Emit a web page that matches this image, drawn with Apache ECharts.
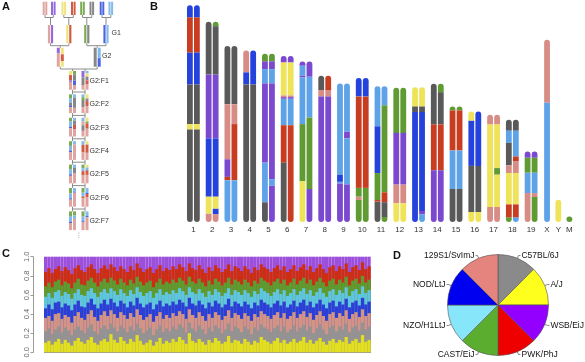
<!DOCTYPE html>
<html><head><meta charset="utf-8">
<script src="https://cdn.jsdelivr.net/npm/echarts@6/dist/echarts.min.js"></script>
<style>html,body{margin:0;padding:0;background:#fff}#c{width:585px;height:362px}</style>
</head><body><div id="c"></div>
<script>
const FONT = '"Liberation Sans", Arial, Helvetica, sans-serif';

// ---- strains ----
const strainNames = ['A/J','C57BL/6J','129S1/SvImJ','NOD/LtJ','NZO/H1LtJ','CAST/EiJ','PWK/PhJ','WSB/EiJ'];
const strainCode = {Y:0,K:1,S:2,N:3,Z:4,C:5,P:6,W:7};
const colB = ['#efe35a','#595959','#d88c86','#2542dc','#5ea3e8','#5f9a33','#c83d22','#7b48d0'];
const colA = ['#eee070','#7a7a7a','#dc9a95','#3a55dd','#74b2ea','#6ea244','#cc4a30','#8a5ad6'];
const colC = ['#e2df1f','#939393','#d39385','#2d3ed6','#5ec6e0','#5b9e2f','#cc2e14','#9b4fdb'];

// ---- Panel D: pie ----
const pieNames  = ['C57BL/6J','A/J','WSB/EiJ','PWK/PhJ','CAST/EiJ','NZO/H1LtJ','NOD/LtJ','129S1/SvImJ'];
const pieValues = [1,1,1,1,1,1,1,1];
const pieColors = ['#8a8a8a','#ffff1e','#9400ff','#ee0000','#5aad2e','#88e6fb','#0000f0','#e5837e'];

// ---- Panel C: upper edge of each strain band per sample (percent) ----
const edgeAJ   = [10,12,8,11,14,9,13,10,7,12, 15,11,9,13,16,10,8,12,14,11, 19,13,10,16,12,9,14,11,18,12, 8,10,13,7,11,15,9,12,10,14, 11,16,13,9,20,12,10,14,11,8, 13,10,15,12,9,11,17,10,13,12, 9,14,11,8,12,10,16,13,11,9, 12,15,10,13,9,11,14,10,12,16, 10,13,9,12,15,11,8,12,14,10, 13,11,16,9,12,14,10,18,11,13];
const edgeB6   = [22,25,19,24,27,21,26,23,18,24, 27,23,20,26,29,22,19,25,28,24, 30,26,22,28,25,21,27,23,30,25, 20,23,26,18,24,28,21,25,22,27, 24,29,26,21,31,25,22,28,24,19, 26,22,28,25,20,24,30,22,27,25, 21,27,24,19,26,23,29,26,24,21, 25,28,22,27,21,24,28,22,26,29, 23,27,20,25,29,24,19,26,28,22, 27,24,30,21,26,28,23,31,24,27];
const edge129  = [36,38,33,40,41,35,39,37,31,38, 42,36,34,40,44,37,33,39,43,38, 44,40,36,42,39,35,41,37,45,39, 34,37,40,32,38,42,35,39,36,41, 38,43,40,35,45,39,36,42,38,33, 40,36,42,39,34,38,44,36,41,39, 35,41,38,33,40,37,43,40,38,35, 39,42,36,41,35,38,42,36,40,43, 37,41,34,39,43,38,33,40,42,36, 41,38,44,35,40,42,37,45,38,41];
const edgeNOD  = [46,50,45,52,53,47,51,49,44,50, 54,48,47,52,56,50,46,51,55,50, 56,52,48,54,51,47,53,49,57,51, 47,50,52,45,50,54,48,51,49,53, 50,55,52,48,57,51,49,54,50,46, 52,48,54,51,47,50,56,48,53,51, 48,53,50,46,52,49,55,52,50,47, 51,54,49,53,47,50,54,48,52,55, 49,53,47,51,55,50,46,52,54,48, 53,50,56,47,52,54,49,57,50,53];
const edgeNZO  = [58,62,57,63,65,59,63,61,56,62, 66,60,59,64,67,62,58,63,66,62, 67,64,60,66,62,59,65,61,68,63, 59,62,64,57,62,66,60,63,61,65, 62,67,64,60,68,63,61,66,62,58, 64,60,66,63,59,62,67,60,65,63, 60,65,62,58,64,61,67,64,62,59, 63,66,61,65,59,62,66,60,64,67, 61,65,59,63,67,62,58,64,66,60, 65,62,68,59,64,66,61,69,62,65];
const edgeCAST = [69,73,68,74,76,70,74,72,67,73, 77,71,70,75,78,73,69,74,77,73, 78,75,71,77,73,70,76,72,79,74, 70,73,75,68,73,77,71,74,72,76, 73,78,75,71,79,74,72,77,73,69, 75,71,77,74,70,73,78,71,76,74, 71,76,73,69,75,72,78,75,73,70, 74,77,72,76,70,73,77,71,75,78, 72,76,70,74,78,73,69,75,77,71, 76,73,79,70,75,77,72,80,73,76];
const edgePWK  = [84,88,83,87,90,85,89,86,82,88, 91,86,84,89,92,87,83,88,91,87, 92,89,85,90,87,84,90,86,93,88, 84,87,89,83,87,91,85,88,86,90, 87,92,89,85,93,88,86,91,87,83, 89,85,91,88,84,87,92,85,90,88, 85,90,87,83,89,86,92,89,87,84, 88,91,86,90,84,87,91,85,89,92, 86,90,84,88,92,87,83,89,91,85, 90,87,93,84,89,91,86,94,87,90];
const edgeWSB  = edgePWK.map(() => 100); // top band always reaches 1.0
const cTicks = [0,20,40,60,80,100];

// ---- Panel B: chromosome haplotype mosaics: [strain, top of segment in Mb], segments listed top to bottom ----
const chromNames = ['1','2','3','4','5','6','7','8','9','10','11','12','13','14','15','16','17','18','19','X','Y','M'];
const chr1  = [[['N',197],['P',186],['N',154],['K',125],['Y',89],['K',84]], [['N',197],['P',186],['N',154],['K',125],['Y',89],['K',84]]];
const chr2  = [[['K',182],['W',134],['N',76],['Y',23],['S',7.6]], [['C',182],['K',178],['W',134],['N',76],['Y',23],['N',12],['S',7]]];
const chr3  = [[['K',160],['S',107],['W',57],['P',41],['Z',38]], [['K',160],['S',107],['P',89],['Z',38]]];
const chr4  = [[['S',156],['N',136],['K',125]], [['N',156],['K',125]]];
const chr5  = [[['C',153],['W',146],['Z',139],['W',126],['Z',54],['K',18]], [['C',153],['W',146],['Z',139],['W',126],['Z',39],['W',33]]];
const chr6  = [[['W',151],['Y',145],['S',115],['W',113.5],['Z',112],['P',88],['K',54]], [['W',151],['Y',145],['S',115],['W',113.5],['Z',112],['P',88]]];
const chr7  = [[['W',146],['Z',142],['W',133],['Z',131.5],['C',89],['Y',37]], [['W',146],['Z',132],['C',95],['W',30]]];
const chr8  = [[['K',133],['S',120],['W',114]], [['P',133],['S',120],['W',114]]];
const chr9  = [[['Z',126],['N',43],['Z',36.5],['W',35]], [['Z',126],['W',82],['Z',76],['W',34]]];
const chr10 = [[['N',131],['P',114],['C',31],['S',23],['C',20]], [['N',131],['P',114],['C',31]]];
const chr11 = [[['Z',123.5],['N',87],['C',44.5],['P',20],['K',18.5]], [['Z',123.5],['C',106],['P',27],['K',18],['C',4.5]]];
const chr12 = [[['C',122],['W',81],['S',34],['Y',17]], [['C',122],['W',81],['S',34],['Y',17]]];
const chr13 = [[['Y',122.6],['K',105],['N',100]], [['Y',122.6],['K',105],['N',100],['W',10],['Z',7]]];
const chr14 = [[['K',125.6],['P',88.7],['W',47]], [['C',125.6],['K',118],['P',88.7],['W',47]]];
const chr15 = [[['C',105],['P',101.4],['Z',65],['K',30]], [['C',105],['P',101.4],['Z',65],['K',30]]];
const chr16 = [[['Y',100.5],['N',92],['K',51],['Y',9]], [['N',100.5],['K',51],['Y',9]]];
const chr17 = [[['S',97.5],['Y',88.7],['S',13.6]], [['S',97.5],['Y',88.7],['C',49],['Y',43],['S',13.6]]];
const chr18 = [[['K',93],['Z',83],['K',72],['S',51.5],['Y',44.5],['P',16],['C',4]], [['K',93],['Z',83],['P',59.6],['S',55.4],['Y',44.5],['P',16],['Z',4]]];
const chr19 = [[['W',64],['C',58.4],['Z',44.8],['S',26.3]], [['W',64],['C',58.4],['Z',44.8],['S',26.3],['C',22.7]]];
const chrX  = [[['S',165.6],['Z',108.4]]];
const chrY  = [[['Y',20.3]]];
const chrM  = [[['C',5]]];
const chromosomes = [chr1,chr2,chr3,chr4,chr5,chr6,chr7,chr8,chr9,chr10,chr11,chr12,chr13,chr14,chr15,chr16,chr17,chr18,chr19,chrX,chrY,chrM];

// ---- Panel A: breeding funnel; homolog segments [strain, from %, to %] from top ----
const founderStrains = ['S','W','Y','P','C','K','N','Z'];
const g1Mice = [[[['S',0,100]],[['W',0,100]]], [[['Y',0,100]],[['P',0,100]]], [[['C',0,100]],[['K',0,100]]], [[['N',0,100]],[['Z',0,100]]]];
const g2Mice = [
  [[['W',0,30],['S',30,100]], [['Y',0,35],['P',35,70],['Y',70,100]]],
  [[['K',0,100]], [['Z',0,55],['N',55,100]]]
];
const fMice = [
  [[[['Y',0,22],['P',22,50],['W',50,58],['S',58,100]], [['C',0,18],['K',18,52],['N',52,75],['S',75,100]]],
   [[['W',0,35],['K',35,75],['S',75,100]], [['Z',0,12],['Y',12,30],['K',30,50],['P',50,72],['S',72,100]]]],
  [[[['C',0,22],['Z',22,45],['K',45,58],['N',58,68],['S',68,100]], [['Z',0,18],['K',18,72],['S',72,100]]],
   [[['Z',0,15],['C',15,30],['K',30,68],['S',68,100]], [['Y',0,22],['K',22,35],['P',35,62],['S',62,100]]]],
  [[[['C',0,20],['Z',20,48],['N',48,56],['S',56,100]], [['Z',0,15],['K',15,38],['P',38,60],['S',60,100]]],
   [[['Z',0,20],['S',20,40],['K',40,70],['S',70,100]], [['Y',0,20],['C',20,30],['P',30,58],['S',58,100]]]],
  [[[['C',0,25],['Z',25,50],['N',50,58],['S',58,100]], [['Z',0,18],['S',18,100]]],
   [[['Z',0,20],['P',20,60],['S',60,100]], [['Y',0,18],['P',18,62],['S',62,100]]]],
  [[[['C',0,25],['Z',25,52],['N',52,60],['S',60,100]], [['Z',0,18],['K',18,45],['S',45,100]]],
   [[['C',0,20],['Z',20,35],['P',35,58],['S',58,100]], [['Y',0,15],['Z',15,30],['P',30,55],['S',55,100]]]],
  [[[['C',0,28],['Z',28,55],['N',55,62],['S',62,100]], [['Z',0,20],['N',20,25],['S',25,100]]],
   [[['C',0,25],['Z',25,45],['P',45,55],['S',55,100]], [['Z',0,25],['N',25,32],['P',32,48],['S',48,100]]]],
  [[[['C',0,28],['Z',28,55],['N',55,62],['S',62,100]], [['C',0,22],['Z',22,40],['S',40,100]]],
   [[['C',0,28],['Z',28,50],['N',50,56],['S',56,100]], [['Z',0,25],['N',25,32],['S',32,100]]]]
];
const fLabels = ['G2:F1','G2:F2','G2:F3','G2:F4','G2:F5','G2:F6','G2:F7'];

// ================= layout (not data) =================
const chromSlot = [0,1,2,3,4,5,6,7,8,9,10,11,12,13,14,15,16,17,18,18.85,19.45,20.04];
const LA = { founderX:[45,53.3,63.8,73.3,82.5,91.8,102,110.8], founderTop:1.7, founderH:13.3,
  g1X:[50.5,68.8,86.8,106], g1Top:25, g1H:18.3, g2X:[60.3,97.2], g2Top:47.7, g2H:19,
  fX:[72.5,85], fTop:71, fStep:23.4, fH:18.7 };

// ---- build panel A rects ----
const aRects = []; // [x0,y0,x1,y1,strain]
function addMouse(cx, top, h, homologs, w, off) {
  homologs.forEach((segs, hi) => {
    const hx = cx + (hi === 0 ? -off : off);
    segs.forEach(s => aRects.push([hx - w/2, top + h*s[1]/100, hx + w/2, top + h*s[2]/100, strainCode[s[0]]]));
  });
}
founderStrains.forEach((c, i) => addMouse(LA.founderX[i], LA.founderTop, LA.founderH, [[[c,0,100]],[[c,0,100]]], 2, 1.3));
g1Mice.forEach((m, i) => addMouse(LA.g1X[i], LA.g1Top, LA.g1H, m, 2.2, 1.5));
g2Mice.forEach((m, i) => addMouse(LA.g2X[i], LA.g2Top, LA.g2H, m, 3, 2));
fMice.forEach((row, r) => row.forEach((m, i) => addMouse(LA.fX[i], LA.fTop + r*LA.fStep, LA.fH, m, 3, 2)));

const aLines = [];
(function(){
  const yb = LA.founderTop + LA.founderH, yl = yb + 2.5;
  for (let i = 0; i < 4; i++) {
    const xa = LA.founderX[2*i], xb = LA.founderX[2*i+1];
    aLines.push([xa,yb,xa,yl],[xb,yb,xb,yl],[xa,yl,xb,yl],[LA.g1X[i],yl,LA.g1X[i],LA.g1Top]);
  }
  const yb1 = LA.g1Top + LA.g1H, yl1 = yb1 + 2.4;
  for (let i = 0; i < 2; i++) {
    const xa = LA.g1X[2*i], xb = LA.g1X[2*i+1];
    aLines.push([xa,yb1,xa,yl1],[xb,yb1,xb,yl1],[xa,yl1,xb,yl1],[LA.g2X[i],yl1,LA.g2X[i],LA.g2Top]);
  }
  const yb2 = LA.g2Top + LA.g2H, yl2 = yb2 + 2.3;
  aLines.push([LA.g2X[0],yb2,LA.g2X[0],yl2],[LA.g2X[1],yb2,LA.g2X[1],yl2],[LA.g2X[0],yl2,LA.g2X[1],yl2],
              [LA.fX[0],yl2,LA.fX[0],LA.fTop],[LA.fX[1],yl2,LA.fX[1],LA.fTop]);
  for (let r = 0; r < 6; r++) {
    const b = LA.fTop + r*LA.fStep + LA.fH, l = b + 2.3, nt = LA.fTop + (r+1)*LA.fStep;
    aLines.push([LA.fX[0],b,LA.fX[0],nt],[LA.fX[1],b,LA.fX[1],nt],[LA.fX[0],l,LA.fX[1],l]);
  }
})();
const aTexts = [['G1',111.5,33],['G2',102,56]].concat(fLabels.map((t, r) => [t, 89.5, LA.fTop + r*LA.fStep + LA.fH/2 + 0.5]));

// ---- build panel B items ----
const bItems = [];
chromosomes.forEach((homs, ci) => {
  homs.forEach((segs, hi) => {
    const side = homs.length === 1 ? 0 : (hi === 0 ? -1 : 1);
    segs.forEach((seg, si) => {
      const bottom = si + 1 < segs.length ? segs[si+1][1] : 0;
      bItems.push([chromSlot[ci], side, bottom, seg[1], strainCode[seg[0]], si === 0 ? 1 : 0, si === segs.length - 1 ? 1 : 0]);
    });
  });
});

const chart = echarts.init(document.getElementById('c'), null, {renderer:'canvas'});
const cCats = edgeAJ.map((_, i) => String(i + 1));
const cEdges = [edgeWSB, edgePWK, edgeCAST, edgeNZO, edgeNOD, edge129, edgeB6, edgeAJ];
const cIdx = [7,6,5,4,3,2,1,0];

const option = {
  animation: false,
  backgroundColor: '#fff',
  textStyle: {fontFamily: FONT},
  grid: [
    {left:0, top:0, width:130, height:240, show:false},
    {left:184, top:2, width:394, height:220, show:false},
    {left:44, top:256.7, width:326.7, height:95.6, show:false}
  ],
  xAxis: [
    {gridIndex:0, type:'value', min:0, max:130, show:false},
    {gridIndex:1, type:'value', min:-0.5, max:20.5, show:false},
    {gridIndex:2, type:'category', data:cCats, show:false, boundaryGap:true}
  ],
  yAxis: [
    {gridIndex:0, type:'value', min:0, max:240, inverse:true, show:false},
    {gridIndex:1, type:'value', min:0, max:200, show:false},
    {gridIndex:2, type:'value', min:0, max:100, interval:20, position:'left', offset:11,
     axisLine:{show:true, lineStyle:{color:'#9a9a9a', width:1}},
     axisTick:{show:true, length:2.5, lineStyle:{color:'#9a9a9a'}},
     axisLabel:{rotate:90, fontSize:7.5, color:'#666', margin:2.5, fontFamily:FONT,
       customValues: cTicks, formatter: v => (v/100).toFixed(1)},
     splitLine:{show:false}}
  ],
  graphic: [
    {type:'text', left:2, top:1, style:{text:'A', font:'bold 11px '+FONT, fill:'#111'}},
    {type:'text', left:150, top:1.5, style:{text:'B', font:'bold 11px '+FONT, fill:'#111'}},
    {type:'text', left:2, top:248.5, style:{text:'C', font:'bold 11px '+FONT, fill:'#111'}},
    {type:'text', left:393, top:250.5, style:{text:'D', font:'bold 11px '+FONT, fill:'#111'}}
  ],
  series: [
    // Panel A lines
    {type:'custom', xAxisIndex:0, yAxisIndex:0, silent:true, data:aLines, encode:{x:[0,2], y:[1,3]},
     renderItem:(p, api) => {
       const a = api.coord([api.value(0), api.value(1)]), b = api.coord([api.value(2), api.value(3)]);
       return {type:'line', shape:{x1:a[0], y1:a[1], x2:b[0], y2:b[1]}, style:{stroke:'#8c8c8c', lineWidth:1}};
     }},
    // Panel A chromosomes
    {type:'custom', xAxisIndex:0, yAxisIndex:0, silent:true, data:aRects, encode:{x:[0,2], y:[1,3]},
     renderItem:(p, api) => {
       const a = api.coord([api.value(0), api.value(1)]), b = api.coord([api.value(2), api.value(3)]);
       return {type:'rect', shape:{x:a[0], y:a[1], width:b[0]-a[0], height:b[1]-a[1]},
               style:{fill:colA[api.value(4)], opacity:0.9}};
     }},
    // Panel A labels
    {type:'custom', xAxisIndex:0, yAxisIndex:0, silent:true, data:aTexts.map(t => [t[1], t[2], t[0]]),
     encode:{x:0, y:1},
     renderItem:(p, api) => {
       const a = api.coord([api.value(0), api.value(1)]);
       return {type:'text', x:a[0], y:a[1], style:{text:aTexts[p.dataIndex][0], fill:'#333', font:'7px '+FONT, align:'left', verticalAlign:'middle'}};
     }},
    {type:'custom', xAxisIndex:0, yAxisIndex:0, silent:true, data:[[78.8,232.5,78.8,238]], encode:{x:[0,2], y:[1,3]},
     renderItem:(p, api) => {
       const a = api.coord([api.value(0), api.value(1)]), b = api.coord([api.value(2), api.value(3)]);
       return {type:'line', shape:{x1:a[0], y1:a[1], x2:b[0], y2:b[1]}, style:{stroke:'#aaa', lineWidth:1, lineDash:[1,1.3]}};
     }},
    // Panel B chromosomes
    {type:'custom', xAxisIndex:1, yAxisIndex:1, silent:true, data:bItems, encode:{x:0, y:[2,3]},
     renderItem:(p, api) => {
       const x = api.value(0), side = api.value(1);
       const lo = api.coord([x, api.value(2)]), hi = api.coord([x, api.value(3)]);
       const w = 5.8, off = 3.5, rr = w/2;
       const t = api.value(5) ? rr : 0, b = api.value(6) ? rr : 0;
       const cx = lo[0] + side*off;
       return {type:'rect', shape:{x:cx - w/2, y:hi[1], width:w, height:lo[1]-hi[1], r:[t,t,b,b]},
               style:{fill:colB[api.value(4)]}};
     }},
    // Panel B labels
    {type:'custom', xAxisIndex:1, yAxisIndex:1, silent:true, data:chromSlot.map((s, i) => [s, 0]), encode:{x:0, y:1},
     renderItem:(p, api) => {
       const a = api.coord([api.value(0), 0]);
       return {type:'text', x:a[0], y:a[1] + 7.6, style:{text:chromNames[p.dataIndex], fill:'#333', font:'8px '+FONT, align:'center', verticalAlign:'middle'}};
     }},
    // Panel C bars (each series drawn from 0 up to the band's upper edge; later series cover lower parts)
    ...cEdges.map((arr, k) => ({
      type:'bar', name:strainNames[cIdx[k]], xAxisIndex:2, yAxisIndex:2, data:arr, silent:true,
      barGap:'-100%', barCategoryGap:'0%', itemStyle:{color:colC[cIdx[k]]}, z:2 + k
    })),
    // Panel D pie
    {type:'pie', center:[498,305], radius:50.5, startAngle:90, clockwise:true, silent:true,
     data: pieNames.map((n, i) => ({name:n, value:pieValues[i], itemStyle:{color:pieColors[i]}})),
     itemStyle:{borderColor:'#555', borderWidth:0.6},
     label:{show:true, position:'outside', formatter:'{b}', color:'#111', fontSize:8.5, fontFamily:FONT,
            distanceToLabelLine:1, overflow:'none', bleedMargin:0},
     labelLine:{show:true, length:3, length2:2, lineStyle:{color:'#666', width:0.8}},
     emphasis:{disabled:true}}
  ]
};
chart.setOption(option);
</script></body></html>
